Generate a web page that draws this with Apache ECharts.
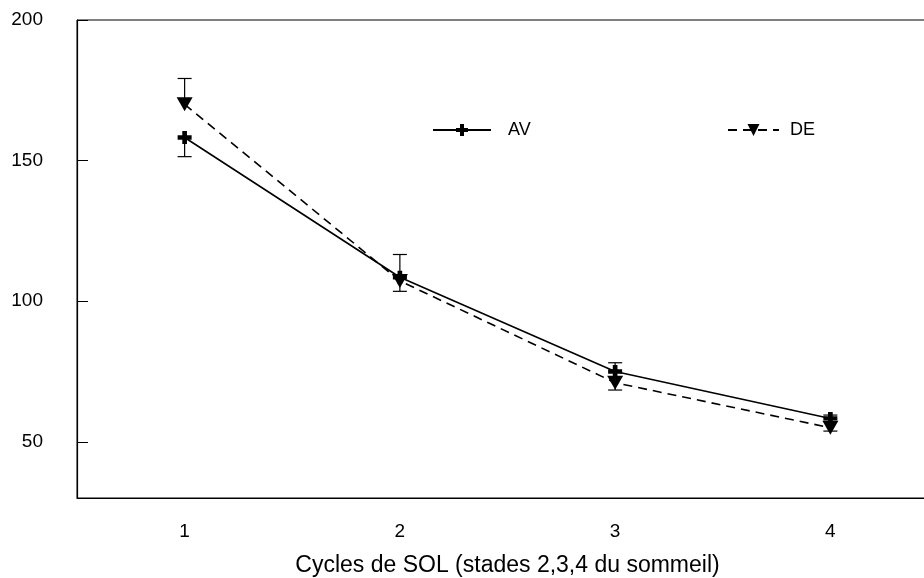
<!DOCTYPE html>
<html>
<head>
<meta charset="utf-8">
<script src="https://cdn.jsdelivr.net/npm/echarts@6/dist/echarts.min.js"></script>
<style>html,body{margin:0;padding:0;background:#fff}#c{width:924px;height:578px}</style>
</head>
<body>
<div id="c"></div>
<script>
var categories = ['1', '2', '3', '4'];
var yTickValues = [50, 100, 150, 200];
var avValues = [158.2, 108.5, 75.0, 58.3];
var deValues = [170.0, 107.2, 71.0, 55.0];
var avErrEnd = [151.4, 116.6, 78.1, 59.5];
var deErrEnd = [179.2, 103.5, 68.4, 53.8];
var xTitle = 'Cycles de SOL (stades 2,3,4 du sommeil)';

var FONT = 'Liberation Sans';
var plusPath = 'path://M4,0H8V4H12V8H8V12H4V8H0V4H4Z';
var triPath = 'path://M0,0L10,0L5,10Z';

function errData(vals, ends) {
  return vals.map(function (v, i) { return [i, v, ends[i]]; });
}
function renderErr(params, api) {
  var x = api.value(0);
  var p0 = api.coord([x, api.value(1)]);
  var p1 = api.coord([x, api.value(2)]);
  var hw = 7;
  var st = { stroke: '#000', lineWidth: 1.2, fill: null };
  return {
    type: 'group',
    children: [
      { type: 'line', shape: { x1: p0[0], y1: p0[1], x2: p1[0], y2: p1[1] }, style: st },
      { type: 'line', shape: { x1: p1[0] - hw, y1: p1[1], x2: p1[0] + hw, y2: p1[1] }, style: st }
    ]
  };
}

var chart = echarts.init(document.getElementById('c'), null, { renderer: 'canvas' });
chart.setOption({
  animation: false,
  backgroundColor: '#fff',
  grid: { left: 77, top: 20, bottom: 80, right: -14, outerBoundsMode: 'none', containLabel: false,
          show: true, borderColor: '#000', borderWidth: 1, backgroundColor: 'transparent' },
  legend: [
    {
      left: 427, top: 116,
      itemWidth: 58, itemHeight: 15,
      data: ['AV'],
      textStyle: { fontFamily: FONT, fontSize: 18, color: '#000', padding: [0, 0, 0, 12] }
    },
    {
      left: 722, top: 116,
      itemWidth: 51, itemHeight: 15,
      data: ['DE'],
      textStyle: { fontFamily: FONT, fontSize: 18, color: '#000', padding: [0, 0, 0, 6] }
    }
  ],
  xAxis: {
    type: 'category',
    data: categories,
    boundaryGap: true,
    axisLine: { lineStyle: { color: '#000', width: 1.2 } },
    axisTick: { inside: true, length: 10, alignWithLabel: true, lineStyle: { color: '#000' } },
    axisLabel: { margin: 24, fontFamily: FONT, fontSize: 19, color: '#000' },
    splitLine: { show: false },
    name: xTitle,
    nameLocation: 'middle',
    nameGap: 56,
    nameTextStyle: { fontFamily: FONT, fontSize: 23, color: '#000' }
  },
  yAxis: {
    type: 'value',
    min: 30, max: 200,
    axisLine: { show: true, lineStyle: { color: '#000', width: 1.2 } },
    axisTick: { show: true, inside: true, length: 11, customValues: yTickValues, lineStyle: { color: '#000' } },
    axisLabel: { margin: 34, fontFamily: FONT, fontSize: 19, color: '#000', customValues: yTickValues },
    splitLine: { show: false }
  },
  series: [
    {
      name: 'AV', type: 'line', data: avValues, z: 3,
      symbol: plusPath, symbolSize: [14, 13], showSymbol: true,
      lineStyle: { color: '#000', width: 1.6, type: 'solid' },
      itemStyle: { color: '#000', borderWidth: 0 }
    },
    {
      name: 'DE', type: 'line', data: deValues, z: 3,
      symbol: triPath, symbolSize: [16, 14], showSymbol: true,
      lineStyle: { color: '#000', width: 1.6, type: [9, 6] },
      itemStyle: { color: '#000', borderWidth: 0 }
    },
    { type: 'custom', z: 2, renderItem: renderErr, data: errData(avValues, avErrEnd), encode: { x: 0, y: [1, 2] }, silent: true },
    { type: 'custom', z: 2, renderItem: renderErr, data: errData(deValues, deErrEnd), encode: { x: 0, y: [1, 2] }, silent: true }
  ]
});
</script>
</body>
</html>
